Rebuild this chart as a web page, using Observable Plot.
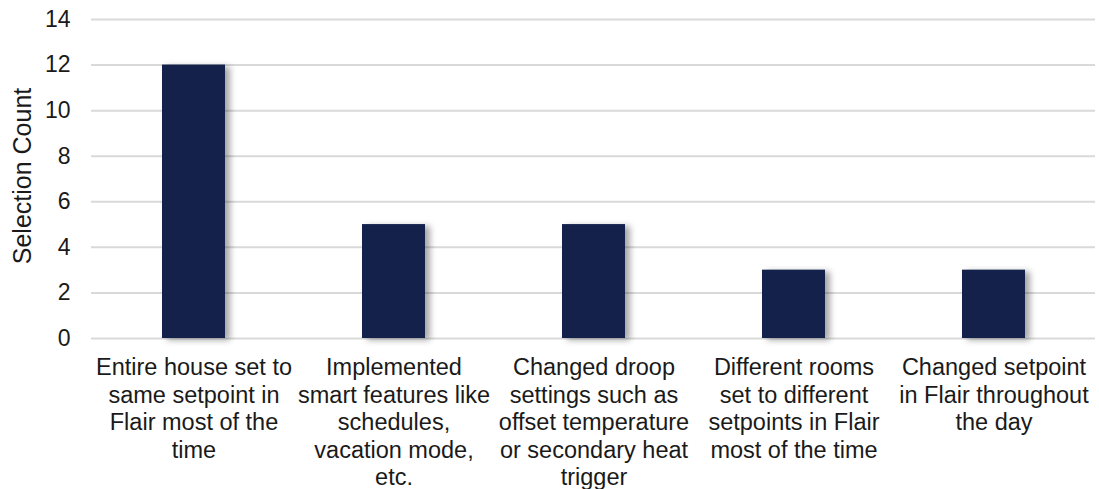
<!DOCTYPE html>
<html>
<head>
<meta charset="utf-8">
<script src="https://cdn.jsdelivr.net/npm/d3@7"></script>
<script src="https://cdn.jsdelivr.net/npm/@observablehq/plot@0.6"></script>
<style>
  html, body { margin: 0; padding: 0; background: #fff; }
  .bars rect { filter: drop-shadow(5px 2px 3px rgba(0,0,0,0.35)); }
</style>
</head>
<body>
<div id="chart"></div>
<script>
const categories = [
  "Entire house set to same setpoint in Flair most of the time",
  "Implemented smart features like schedules, vacation mode, etc.",
  "Changed droop settings such as offset temperature or secondary heat trigger",
  "Different rooms set to different setpoints in Flair most of the time",
  "Changed setpoint in Flair throughout the day"
];
const tickLabels = [
  "Entire house set to\nsame setpoint in\nFlair most of the\ntime",
  "Implemented\nsmart features like\nschedules,\nvacation mode,\netc.",
  "Changed droop\nsettings such as\noffset temperature\nor secondary heat\ntrigger",
  "Different rooms\nset to different\nsetpoints in Flair\nmost of the time",
  "Changed setpoint\nin Flair throughout\nthe day"
];
const counts = [12, 5, 5, 3, 3];
const yTicks = [0, 2, 4, 6, 8, 10, 12, 14];
const yLabel = "Selection Count";

const data = categories.map((c, i) => ({category: c, count: counts[i]}));
const labelOf = new Map(categories.map((c, i) => [c, tickLabels[i]]));

const chart = Plot.plot({
  width: 1099,
  height: 489,
  marginTop: 19,
  marginBottom: 151,
  marginLeft: 91,
  marginRight: 4,
  style: {fontFamily: "'Liberation Sans', Arial, sans-serif", fontSize: "23px", color: "#1a1a1a", background: "#fff"},
  x: {domain: categories, paddingInner: 0.686, paddingOuter: 0.343},
  y: {domain: [0, 14]},
  marks: [
    Plot.gridY(yTicks, {stroke: "#d9d9d9", strokeOpacity: 1, strokeWidth: 2}),
    Plot.barY(data, {x: "category", y: "count", fill: "#13214b", className: "bars"}),
    Plot.axisY(yTicks, {tickSize: 0, tickPadding: 21, fontSize: 23, label: null}),
    Plot.text([yLabel], {frameAnchor: "left", textAnchor: "middle", lineAnchor: "middle", rotate: -90, dx: -69, dy: -3, fontSize: 25, text: d => d, fill: "#1a1a1a"}),
    Plot.axisX({tickSize: 0, tickPadding: 17, fontSize: 23.5, lineHeight: 1.17, tickFormat: d => labelOf.get(d), label: null})
  ]
});
document.getElementById("chart").appendChild(chart);
</script>
</body>
</html>
